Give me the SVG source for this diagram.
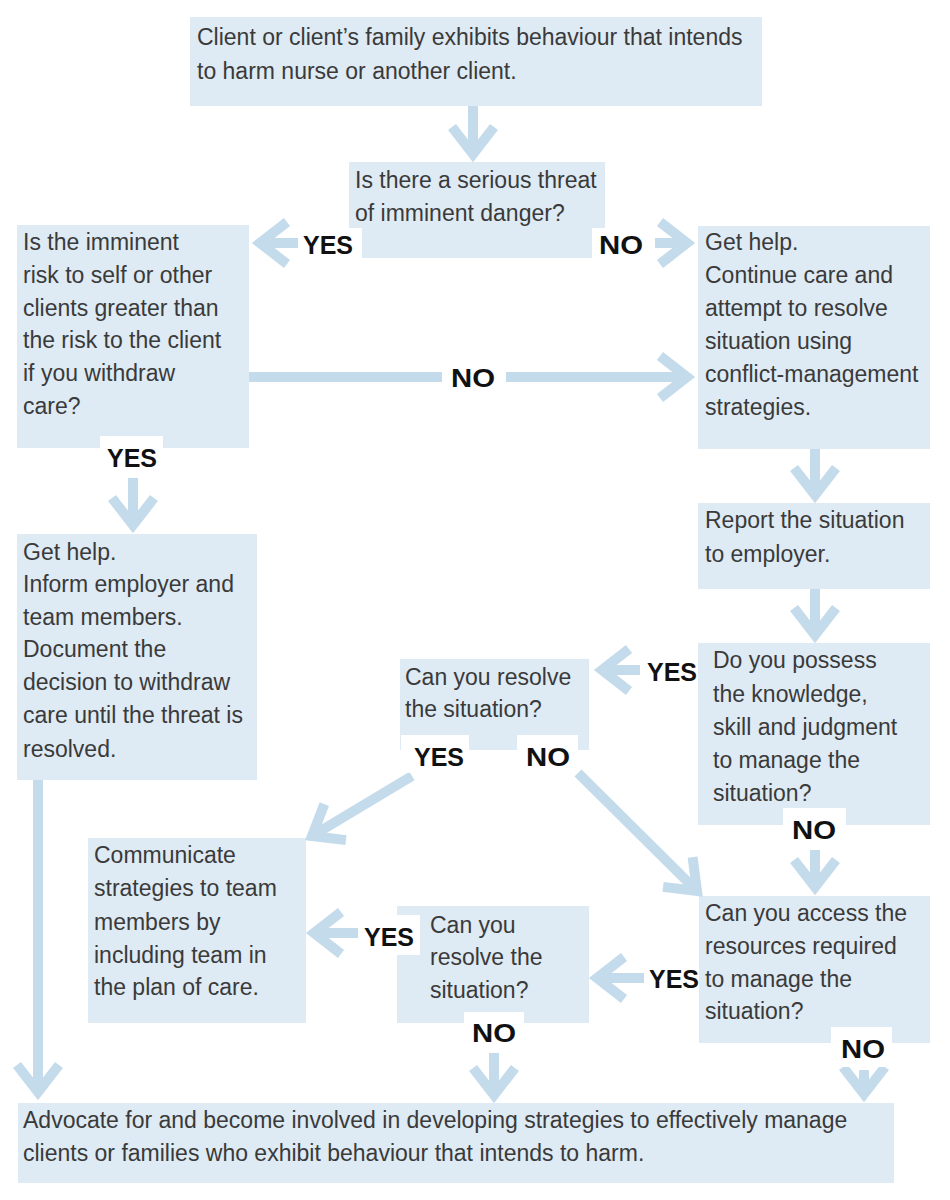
<svg xmlns="http://www.w3.org/2000/svg" width="950" height="1200" viewBox="0 0 950 1200">
<style>
.box{fill:#deeaf4}
.t{font-family:"Liberation Sans",Arial,sans-serif;font-size:23px;fill:#3a3a3a}
.lb{font-family:"Liberation Sans",Arial,sans-serif;font-size:25px;font-weight:bold;fill:#111}
.bg{fill:#ffffff}
.c{stroke:#c4dbec;stroke-width:10;fill:none}
.ca{stroke:#c4dbec;stroke-width:10;fill:none;marker-end:url(#ah)}
</style>
<defs>
<marker id="ah" markerUnits="userSpaceOnUse" orient="auto" refX="0" refY="0" viewBox="-40 -30 60 60" markerWidth="60" markerHeight="60" overflow="visible">
<path d="M-27,-21 L0,0 L-27,21" fill="none" stroke="#c4dbec" stroke-width="10"/>
</marker>
</defs>
<rect width="950" height="1200" fill="#ffffff"/>

<g id="n1"><rect class="box" x="190" y="17" width="572" height="89"/>
<text class="t" x="197" y="45">Client or client’s family exhibits behaviour that intends</text>
<text class="t" x="197" y="79">to harm nurse or another client.</text></g>

<g id="n2"><rect class="box" x="349" y="162" width="256" height="96"/>
<text class="t" x="355" y="188">Is there a serious threat</text>
<text class="t" x="355" y="221">of imminent danger?</text></g>

<g id="n3"><rect class="box" x="17" y="225" width="232" height="223"/>
<text class="t" x="23" y="250">Is the imminent</text>
<text class="t" x="23" y="283">risk to self or other</text>
<text class="t" x="23" y="316">clients greater than</text>
<text class="t" x="23" y="348">the risk to the client</text>
<text class="t" x="23" y="381">if you withdraw</text>
<text class="t" x="23" y="414">care?</text></g>

<g id="n4"><rect class="box" x="698" y="226" width="232" height="223"/>
<text class="t" x="705" y="250">Get help.</text>
<text class="t" x="705" y="283">Continue care and</text>
<text class="t" x="705" y="316">attempt to resolve</text>
<text class="t" x="705" y="349">situation using</text>
<text class="t" x="705" y="382">conflict-management</text>
<text class="t" x="705" y="415">strategies.</text></g>

<g id="n5"><rect class="box" x="698" y="503" width="232" height="86"/>
<text class="t" x="705" y="528">Report the situation</text>
<text class="t" x="705" y="562">to employer.</text></g>

<g id="n6"><rect class="box" x="698" y="643" width="232" height="182"/>
<text class="t" x="713" y="668">Do you possess</text>
<text class="t" x="713" y="702">the knowledge,</text>
<text class="t" x="713" y="735">skill and judgment</text>
<text class="t" x="713" y="768">to manage the</text>
<text class="t" x="713" y="801">situation?</text></g>

<g id="n7"><rect class="box" x="400" y="659" width="189" height="91"/>
<text class="t" x="405" y="685">Can you resolve</text>
<text class="t" x="405" y="717">the situation?</text></g>

<g id="n8"><rect class="box" x="88" y="838" width="218" height="185"/>
<text class="t" x="94" y="863">Communicate</text>
<text class="t" x="94" y="896">strategies to team</text>
<text class="t" x="94" y="930">members by</text>
<text class="t" x="94" y="963">including team in</text>
<text class="t" x="94" y="995">the plan of care.</text></g>

<g id="n9"><rect class="box" x="397" y="906" width="192" height="117"/>
<text class="t" x="430" y="933">Can you</text>
<text class="t" x="430" y="965">resolve the</text>
<text class="t" x="430" y="998">situation?</text></g>

<g id="n10"><rect class="box" x="699" y="896" width="231" height="147"/>
<text class="t" x="705" y="921">Can you access the</text>
<text class="t" x="705" y="954">resources required</text>
<text class="t" x="705" y="987">to manage the</text>
<text class="t" x="705" y="1019">situation?</text></g>

<g id="n11"><rect class="box" x="17" y="534" width="240" height="246"/>
<text class="t" x="23" y="560">Get help.</text>
<text class="t" x="23" y="592">Inform employer and</text>
<text class="t" x="23" y="625">team members.</text>
<text class="t" x="23" y="657">Document the</text>
<text class="t" x="23" y="690">decision to withdraw</text>
<text class="t" x="23" y="723">care until the threat is</text>
<text class="t" x="23" y="757">resolved.</text></g>

<g id="n12"><rect class="box" x="18" y="1103" width="876" height="80"/>
<text class="t" x="23" y="1128">Advocate for and become involved in developing strategies to effectively manage</text>
<text class="t" x="23" y="1161">clients or families who exhibit behaviour that intends to harm.</text></g>

<g id="connectors">
<line class="ca" x1="473" y1="106" x2="473" y2="154"/>
<line class="ca" x1="298" y1="243" x2="260" y2="243"/>
<line class="ca" x1="655" y1="243" x2="687" y2="243"/>
<line class="c" x1="249" y1="377" x2="442" y2="377"/>
<line class="ca" x1="506" y1="377" x2="687" y2="377"/>
<line class="ca" x1="133" y1="478" x2="133" y2="525"/>
<line class="ca" x1="815" y1="449" x2="815" y2="495"/>
<line class="ca" x1="815" y1="589" x2="815" y2="635"/>
<line class="ca" x1="640" y1="670" x2="602" y2="670"/>
<line class="ca" x1="815" y1="850" x2="815" y2="887"/>
<line class="ca" x1="412" y1="776" x2="312" y2="836"/>
<line class="ca" x1="578" y1="773" x2="697" y2="891"/>
<line class="ca" x1="358" y1="933" x2="314" y2="933"/>
<line class="ca" x1="644" y1="978" x2="597" y2="978"/>
<line class="ca" x1="494" y1="1053" x2="494" y2="1095"/>
<line class="ca" x1="864" y1="1070" x2="864" y2="1094"/>
<line class="ca" x1="38" y1="780" x2="38" y2="1092"/>
</g>

<g id="labels">
<rect class="bg" x="299" y="228" width="63" height="32"/>
<text class="lb" x="303" y="254">YES</text>
<rect class="bg" x="592" y="228" width="56" height="32"/>
<text class="lb" x="599" y="254" textLength="44" lengthAdjust="spacingAndGlyphs">NO</text>
<text class="lb" x="451" y="387" textLength="44" lengthAdjust="spacingAndGlyphs">NO</text>
<rect class="bg" x="100" y="436" width="63" height="40"/>
<text class="lb" x="107" y="467">YES</text>
<text class="lb" x="647" y="681">YES</text>
<rect class="bg" x="401" y="735" width="68" height="38"/>
<text class="lb" x="414" y="766">YES</text>
<rect class="bg" x="517" y="735" width="61" height="38"/>
<text class="lb" x="526" y="766" textLength="44" lengthAdjust="spacingAndGlyphs">NO</text>
<rect class="bg" x="783" y="808" width="63" height="40"/>
<text class="lb" x="792" y="839" textLength="44" lengthAdjust="spacingAndGlyphs">NO</text>
<rect class="bg" x="360" y="915" width="60" height="40"/>
<text class="lb" x="364" y="946">YES</text>
<rect class="bg" x="464" y="1012" width="60" height="40"/>
<text class="lb" x="472" y="1042" textLength="44" lengthAdjust="spacingAndGlyphs">NO</text>
<text class="lb" x="649" y="988">YES</text>
<rect class="bg" x="831" y="1027" width="61" height="40"/>
<text class="lb" x="841" y="1058" textLength="44" lengthAdjust="spacingAndGlyphs">NO</text>
</g>
</svg>
